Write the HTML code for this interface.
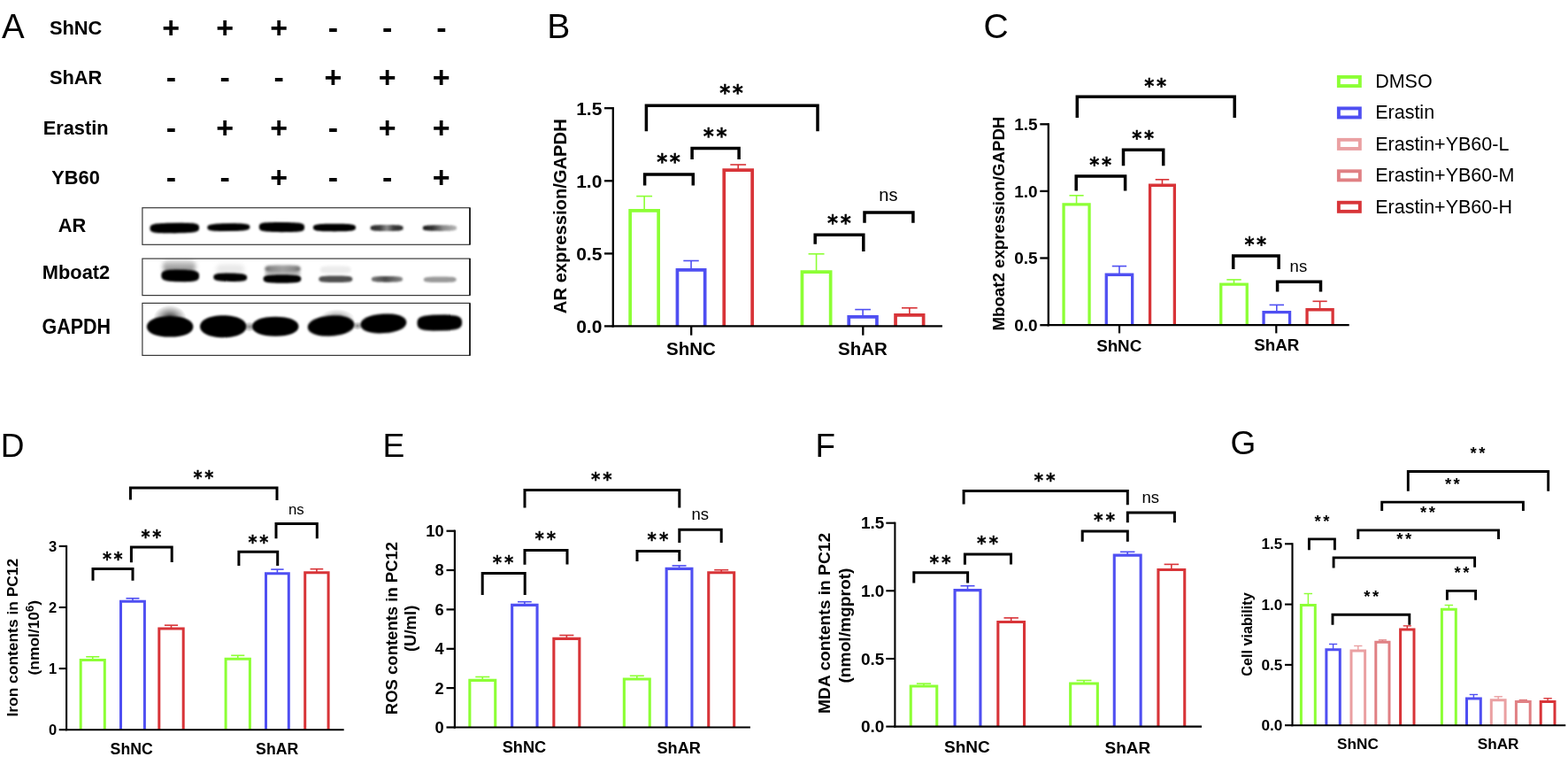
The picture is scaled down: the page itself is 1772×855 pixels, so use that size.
<!DOCTYPE html>
<html><head><meta charset="utf-8"><title>Figure</title>
<style>html,body{margin:0;padding:0;background:#fff;}body{width:1772px;height:855px;overflow:hidden;}svg{display:block;}</style>
</head><body>
<svg width="1772" height="855" viewBox="0 0 1772 855">
<rect width="1772" height="855" fill="#fff"/>
<text x="1.91" y="42.8" font-size="38.4" font-family="'Liberation Sans', Arial, Helvetica, sans-serif" text-anchor="start">A</text>
<text x="618.18" y="42.9" font-size="39" font-family="'Liberation Sans', Arial, Helvetica, sans-serif" text-anchor="start">B</text>
<text x="1111.55" y="42.6" font-size="39" font-family="'Liberation Sans', Arial, Helvetica, sans-serif" text-anchor="start">C</text>
<text x="0.84" y="516.2" font-size="37" font-family="'Liberation Sans', Arial, Helvetica, sans-serif" text-anchor="start">D</text>
<text x="432.42" y="516" font-size="37.2" font-family="'Liberation Sans', Arial, Helvetica, sans-serif" text-anchor="start">E</text>
<text x="921.46" y="516" font-size="36.8" font-family="'Liberation Sans', Arial, Helvetica, sans-serif" text-anchor="start">F</text>
<text x="1390.55" y="513.3" font-size="37" font-family="'Liberation Sans', Arial, Helvetica, sans-serif" text-anchor="start">G</text>
<text x="85.6" y="38.6" font-size="21.8" font-family="'Liberation Sans', Arial, Helvetica, sans-serif" font-weight="bold" text-anchor="middle">ShNC</text>
<text x="193.3" y="42.6" font-size="34" font-family="'Liberation Sans', Arial, Helvetica, sans-serif" font-weight="bold" text-anchor="middle">+</text>
<text x="254.2" y="42.6" font-size="34" font-family="'Liberation Sans', Arial, Helvetica, sans-serif" font-weight="bold" text-anchor="middle">+</text>
<text x="315.2" y="42.6" font-size="34" font-family="'Liberation Sans', Arial, Helvetica, sans-serif" font-weight="bold" text-anchor="middle">+</text>
<text x="376.5" y="42.6" font-size="34" font-family="'Liberation Sans', Arial, Helvetica, sans-serif" font-weight="bold" text-anchor="middle">-</text>
<text x="437.7" y="42.6" font-size="34" font-family="'Liberation Sans', Arial, Helvetica, sans-serif" font-weight="bold" text-anchor="middle">-</text>
<text x="498.8" y="42.6" font-size="34" font-family="'Liberation Sans', Arial, Helvetica, sans-serif" font-weight="bold" text-anchor="middle">-</text>
<text x="85.6" y="95.2" font-size="21.8" font-family="'Liberation Sans', Arial, Helvetica, sans-serif" font-weight="bold" text-anchor="middle">ShAR</text>
<text x="193.3" y="98.5" font-size="34" font-family="'Liberation Sans', Arial, Helvetica, sans-serif" font-weight="bold" text-anchor="middle">-</text>
<text x="254.2" y="98.5" font-size="34" font-family="'Liberation Sans', Arial, Helvetica, sans-serif" font-weight="bold" text-anchor="middle">-</text>
<text x="315.2" y="98.5" font-size="34" font-family="'Liberation Sans', Arial, Helvetica, sans-serif" font-weight="bold" text-anchor="middle">-</text>
<text x="376.5" y="98.5" font-size="34" font-family="'Liberation Sans', Arial, Helvetica, sans-serif" font-weight="bold" text-anchor="middle">+</text>
<text x="437.7" y="98.5" font-size="34" font-family="'Liberation Sans', Arial, Helvetica, sans-serif" font-weight="bold" text-anchor="middle">+</text>
<text x="498.8" y="98.5" font-size="34" font-family="'Liberation Sans', Arial, Helvetica, sans-serif" font-weight="bold" text-anchor="middle">+</text>
<text x="85.6" y="152.4" font-size="21.8" font-family="'Liberation Sans', Arial, Helvetica, sans-serif" font-weight="bold" text-anchor="middle">Erastin</text>
<text x="193.3" y="156.1" font-size="34" font-family="'Liberation Sans', Arial, Helvetica, sans-serif" font-weight="bold" text-anchor="middle">-</text>
<text x="254.2" y="156.1" font-size="34" font-family="'Liberation Sans', Arial, Helvetica, sans-serif" font-weight="bold" text-anchor="middle">+</text>
<text x="315.2" y="156.1" font-size="34" font-family="'Liberation Sans', Arial, Helvetica, sans-serif" font-weight="bold" text-anchor="middle">+</text>
<text x="376.5" y="156.1" font-size="34" font-family="'Liberation Sans', Arial, Helvetica, sans-serif" font-weight="bold" text-anchor="middle">-</text>
<text x="437.7" y="156.1" font-size="34" font-family="'Liberation Sans', Arial, Helvetica, sans-serif" font-weight="bold" text-anchor="middle">+</text>
<text x="498.8" y="156.1" font-size="34" font-family="'Liberation Sans', Arial, Helvetica, sans-serif" font-weight="bold" text-anchor="middle">+</text>
<text x="85.6" y="208.3" font-size="21.8" font-family="'Liberation Sans', Arial, Helvetica, sans-serif" font-weight="bold" text-anchor="middle">YB60</text>
<text x="193.3" y="212.3" font-size="34" font-family="'Liberation Sans', Arial, Helvetica, sans-serif" font-weight="bold" text-anchor="middle">-</text>
<text x="254.2" y="212.3" font-size="34" font-family="'Liberation Sans', Arial, Helvetica, sans-serif" font-weight="bold" text-anchor="middle">-</text>
<text x="315.2" y="212.3" font-size="34" font-family="'Liberation Sans', Arial, Helvetica, sans-serif" font-weight="bold" text-anchor="middle">+</text>
<text x="376.5" y="212.3" font-size="34" font-family="'Liberation Sans', Arial, Helvetica, sans-serif" font-weight="bold" text-anchor="middle">-</text>
<text x="437.7" y="212.3" font-size="34" font-family="'Liberation Sans', Arial, Helvetica, sans-serif" font-weight="bold" text-anchor="middle">-</text>
<text x="498.8" y="212.3" font-size="34" font-family="'Liberation Sans', Arial, Helvetica, sans-serif" font-weight="bold" text-anchor="middle">+</text>
<text x="81.5" y="261.8" font-size="21.8" font-family="'Liberation Sans', Arial, Helvetica, sans-serif" font-weight="bold" text-anchor="middle">AR</text>
<text x="86" y="315.2" font-size="21.8" font-family="'Liberation Sans', Arial, Helvetica, sans-serif" font-weight="bold" text-anchor="middle">Mboat2</text>
<text x="86.3" y="377.2" font-size="23" font-family="'Liberation Sans', Arial, Helvetica, sans-serif" font-weight="bold" text-anchor="middle" textLength="77.6" lengthAdjust="spacingAndGlyphs">GAPDH</text>

<defs>
<filter id="bl1" x="-30%" y="-80%" width="160%" height="260%"><feGaussianBlur stdDeviation="0.8"/></filter>
<filter id="bl2" x="-30%" y="-80%" width="160%" height="260%"><feGaussianBlur stdDeviation="1.5"/></filter>
<filter id="bl3" x="-40%" y="-120%" width="180%" height="340%"><feGaussianBlur stdDeviation="2.6"/></filter>
<radialGradient id="rg1" cx="0.5" cy="0.5" r="0.5"><stop offset="0" stop-color="#000" stop-opacity="0.85"/><stop offset="0.55" stop-color="#000" stop-opacity="0.35"/><stop offset="1" stop-color="#000" stop-opacity="0"/></radialGradient>
<radialGradient id="rg2" cx="0.5" cy="0.5" r="0.5"><stop offset="0" stop-color="#000" stop-opacity="0.45"/><stop offset="1" stop-color="#000" stop-opacity="0"/></radialGradient>
<linearGradient id="g5" x1="0" x2="1" y1="0" y2="0"><stop offset="0" stop-color="#2a2a2a"/><stop offset="0.28" stop-color="#3a3a3a"/><stop offset="0.5" stop-color="#8a8a8a"/><stop offset="0.72" stop-color="#3a3a3a"/><stop offset="1" stop-color="#2a2a2a"/></linearGradient>
<linearGradient id="g6" x1="0" x2="1" y1="0" y2="0"><stop offset="0" stop-color="#1a1a1a"/><stop offset="0.3" stop-color="#333"/><stop offset="0.6" stop-color="#8a8a8a"/><stop offset="1" stop-color="#b5b5b5"/></linearGradient>
<linearGradient id="gm1" x1="0" x2="0" y1="0" y2="1"><stop offset="0" stop-color="#e0e0e0"/><stop offset="0.5" stop-color="#a8a8a8"/><stop offset="1" stop-color="#8a8a8a"/></linearGradient>
<linearGradient id="gm3" x1="0" x2="1" y1="0" y2="0"><stop offset="0" stop-color="#6a6a6a"/><stop offset="0.2" stop-color="#8c8c8c"/><stop offset="0.5" stop-color="#a0a0a0"/><stop offset="0.8" stop-color="#8c8c8c"/><stop offset="1" stop-color="#6a6a6a"/></linearGradient>
<linearGradient id="gm5" x1="0" x2="1" y1="0" y2="0"><stop offset="0" stop-color="#777"/><stop offset="0.45" stop-color="#4a4a4a"/><stop offset="1" stop-color="#888"/></linearGradient>
</defs>

<path d="M225.1 257.6C225.1 262.24 222.88 263.4 197.3 263.4C171.72 263.4 169.5 262.24 169.5 257.6C169.5 252.96 171.72 251.8 197.3 251.8C222.88 251.8 225.1 252.96 225.1 257.6Z" fill="#000" opacity="1" transform="rotate(-0.8 197.3 257.6)" filter="url(#bl1)"/>
<path d="M282.4 256.7C282.4 259.34 280.48 261.1 258.35 261.1C236.22 261.1 234.3 259.34 234.3 256.7C234.3 254.06 236.22 252.3 258.35 252.3C280.48 252.3 282.4 254.06 282.4 256.7Z" fill="#000" opacity="1" transform="rotate(-0.8 258.35 256.7)" filter="url(#bl1)"/>
<path d="M344.1 256.6C344.1 261.08 342.05 262.2 318.45 262.2C294.85 262.2 292.8 261.08 292.8 256.6C292.8 252.12 294.85 251 318.45 251C342.05 251 344.1 252.12 344.1 256.6Z" fill="#000" opacity="1" transform="rotate(0.6 318.45 256.6)" filter="url(#bl1)"/>
<path d="M402 257.05C402 260.31 400.08 261.4 377.95 261.4C355.82 261.4 353.9 260.31 353.9 257.05C353.9 253.79 355.82 252.7 377.95 252.7C400.08 252.7 402 253.79 402 257.05Z" fill="#000" opacity="1" filter="url(#bl1)"/>
<path d="M455.6 257.4C455.6 260.2 453.75 260.9 437.1 260.9C420.45 260.9 418.6 260.2 418.6 257.4C418.6 254.6 420.45 253.9 437.1 253.9C453.75 253.9 455.6 254.6 455.6 257.4Z" fill="url(#g5)" opacity="1" filter="url(#bl1)"/>
<path d="M516.2 257.6C516.2 260.24 514.28 260.9 497 260.9C479.72 260.9 477.8 260.24 477.8 257.6C477.8 254.96 479.72 254.3 497 254.3C514.28 254.3 516.2 254.96 516.2 257.6Z" fill="url(#g6)" opacity="1" filter="url(#bl1)"/>
<path d="M221 300.75C221 307.27 219.15 308 202.5 308C185.85 308 184 307.27 184 300.75C184 294.23 185.85 293.5 202.5 293.5C219.15 293.5 221 294.23 221 300.75Z" fill="url(#gm1)" opacity="1" filter="url(#bl3)"/>
<path d="M225.1 311.4C225.1 316.5 221.89 318.2 203.7 318.2C185.51 318.2 182.3 316.5 182.3 311.4C182.3 306.3 185.51 304.6 203.7 304.6C221.89 304.6 225.1 306.3 225.1 311.4Z" fill="#000" opacity="1" transform="rotate(1 203.7 311.4)" filter="url(#bl1)"/>
<path d="M276 304C276 308.95 274.43 309.5 260.25 309.5C246.07 309.5 244.5 308.95 244.5 304C244.5 299.05 246.07 298.5 260.25 298.5C274.43 298.5 276 299.05 276 304Z" fill="#e8e8e8" opacity="1" filter="url(#bl3)"/>
<path d="M279.2 313.15C279.2 316.47 276.93 317.9 260.25 317.9C243.57 317.9 241.3 316.47 241.3 313.15C241.3 309.82 243.57 308.4 260.25 308.4C276.93 308.4 279.2 309.82 279.2 313.15Z" fill="#000" opacity="1" transform="rotate(1 260.25 313.15)" filter="url(#bl1)"/>
<path d="M339.6 309C339.6 311.7 337.59 312 319.5 312C301.41 312 299.4 311.7 299.4 309C299.4 306.3 301.41 306 319.5 306C337.59 306 339.6 306.3 339.6 309Z" fill="#bdbdbd" opacity="1" filter="url(#bl2)"/>
<path d="M339.6 303.8C339.6 307.16 337.59 308 319.5 308C301.41 308 299.4 307.16 299.4 303.8C299.4 300.44 301.41 299.6 319.5 299.6C337.59 299.6 339.6 300.44 339.6 303.8Z" fill="url(#gm3)" opacity="1" filter="url(#bl2)"/>
<path d="M340.3 315.05C340.3 318.61 337.74 319.8 318.95 319.8C300.16 319.8 297.6 318.61 297.6 315.05C297.6 311.49 300.16 310.3 318.95 310.3C337.74 310.3 340.3 311.49 340.3 315.05Z" fill="#000" opacity="1" filter="url(#bl1)"/>
<path d="M396.5 304.55C396.5 308.2 394.77 308.6 379.25 308.6C363.73 308.6 362 308.2 362 304.55C362 300.9 363.73 300.5 379.25 300.5C394.77 300.5 396.5 300.9 396.5 304.55Z" fill="#ececec" opacity="1" filter="url(#bl2)"/>
<path d="M398.3 315.35C398.3 318.16 396.4 319.1 379.3 319.1C362.2 319.1 360.3 318.16 360.3 315.35C360.3 312.54 362.2 311.6 379.3 311.6C396.4 311.6 398.3 312.54 398.3 315.35Z" fill="#505050" opacity="1" filter="url(#bl1)"/>
<path d="M455.1 315.3C455.1 317.85 453.34 318.7 437.45 318.7C421.57 318.7 419.8 317.85 419.8 315.3C419.8 312.75 421.57 311.9 437.45 311.9C453.34 311.9 455.1 312.75 455.1 315.3Z" fill="url(#gm5)" opacity="1" filter="url(#bl1)"/>
<path d="M515.7 315.75C515.7 318.26 513.86 319.1 497.25 319.1C480.64 319.1 478.8 318.26 478.8 315.75C478.8 313.24 480.64 312.4 497.25 312.4C513.86 312.4 515.7 313.24 515.7 315.75Z" fill="#9a9a9a" opacity="1" filter="url(#bl1)"/>
<ellipse cx="192" cy="360" rx="19" ry="15.5" fill="url(#rg1)"/>
<path d="M218.4 368.95C218.4 375.94 208.43 380.6 192.15 380.6C175.88 380.6 165.9 375.94 165.9 368.95C165.9 361.96 175.88 357.3 192.15 357.3C208.43 357.3 218.4 361.96 218.4 368.95Z" fill="#000" opacity="1" filter="url(#bl1)"/>
<path d="M278.5 368.7C278.5 375.95 268 381.2 252.25 381.2C236.5 381.2 226 375.95 226 368.7C226 361.45 236.5 356.2 252.25 356.2C268 356.2 278.5 361.45 278.5 368.7Z" fill="#000" opacity="1" filter="url(#bl1)"/>
<ellipse cx="282" cy="369" rx="7" ry="6" fill="url(#rg2)"/>
<path d="M337.5 368.7C337.5 375.08 327.51 379.7 311.2 379.7C294.89 379.7 284.9 375.08 284.9 368.7C284.9 362.32 294.89 357.7 311.2 357.7C327.51 357.7 337.5 362.32 337.5 368.7Z" fill="#000" opacity="1" filter="url(#bl1)"/>
<ellipse cx="381" cy="360" rx="20" ry="11" fill="url(#rg2)"/>
<path d="M400.5 368.05C400.5 374.75 389.94 379.6 374.1 379.6C358.26 379.6 347.7 374.75 347.7 368.05C347.7 361.35 358.26 356.5 374.1 356.5C389.94 356.5 400.5 361.35 400.5 368.05Z" fill="#000" opacity="1" transform="rotate(-4 374.1 368.05)" filter="url(#bl1)"/>
<ellipse cx="404" cy="368" rx="6" ry="5" fill="url(#rg2)"/>
<path d="M459.4 365.45C459.4 371.74 449.5 376.3 433.35 376.3C417.2 376.3 407.3 371.74 407.3 365.45C407.3 359.16 417.2 354.6 433.35 354.6C449.5 354.6 459.4 359.16 459.4 365.45Z" fill="#000" opacity="1" transform="rotate(-3.5 433.35 365.45)" filter="url(#bl1)"/>
<path d="M522.1 364.6C522.1 371.35 518.56 373.6 496.8 373.6C475.04 373.6 471.5 371.35 471.5 364.6C471.5 357.85 475.04 355.6 496.8 355.6C518.56 355.6 522.1 357.85 522.1 364.6Z" fill="#000" opacity="1" transform="rotate(-1.2 496.8 364.6)" filter="url(#bl1)"/>
<rect x="160.9" y="234.7" width="370.1" height="41.6" fill="none" stroke="#3a3a3a" stroke-width="1.2"/>
<line x1="531" y1="234.7" x2="531" y2="276.3" stroke="#111" stroke-width="1.6"/>
<rect x="160.9" y="292.1" width="370.1" height="41.5" fill="none" stroke="#3a3a3a" stroke-width="1.2"/>
<line x1="531" y1="292.1" x2="531" y2="333.6" stroke="#111" stroke-width="1.6"/>
<rect x="160.9" y="342.4" width="370.1" height="59" fill="none" stroke="#3a3a3a" stroke-width="1.2"/>
<line x1="531" y1="342.4" x2="531" y2="401.4" stroke="#111" stroke-width="1.6"/>
<text x="680.4" y="129.55" font-size="21" font-family="'Liberation Sans', Arial, Helvetica, sans-serif" font-weight="bold" text-anchor="end">1.5</text>
<text x="680.4" y="211.65" font-size="21" font-family="'Liberation Sans', Arial, Helvetica, sans-serif" font-weight="bold" text-anchor="end">1.0</text>
<text x="680.4" y="293.75" font-size="21" font-family="'Liberation Sans', Arial, Helvetica, sans-serif" font-weight="bold" text-anchor="end">0.5</text>
<text x="680.4" y="375.75" font-size="21" font-family="'Liberation Sans', Arial, Helvetica, sans-serif" font-weight="bold" text-anchor="end">0.0</text>
<text x="781" y="401.1" font-size="20.5" font-family="'Liberation Sans', Arial, Helvetica, sans-serif" font-weight="bold" text-anchor="middle">ShNC</text>
<text x="975" y="401.1" font-size="20.5" font-family="'Liberation Sans', Arial, Helvetica, sans-serif" font-weight="bold" text-anchor="middle">ShAR</text>
<text x="639.8" y="244.2" font-size="20.2" font-family="'Liberation Sans', Arial, Helvetica, sans-serif" font-weight="bold" text-anchor="middle" transform="rotate(-90 639.8 244.2)">AR expression/GAPDH</text>
<line x1="728.15" y1="237.95" x2="728.15" y2="221.6" stroke="#8cff35" stroke-width="1.6" stroke-linecap="butt"/>
<line x1="719.22" y1="221.6" x2="737.08" y2="221.6" stroke="#8cff35" stroke-width="1.6" stroke-linecap="butt"/>
<path d="M712.15 368.4V237.95H744.15V368.4" fill="none" stroke="#8cff35" stroke-width="3.7"/>
<line x1="781.05" y1="304.95" x2="781.05" y2="294.5" stroke="#4f4ff2" stroke-width="1.6" stroke-linecap="butt"/>
<line x1="772.32" y1="294.5" x2="789.77" y2="294.5" stroke="#4f4ff2" stroke-width="1.6" stroke-linecap="butt"/>
<path d="M765.45 368.4V304.95H796.65V368.4" fill="none" stroke="#4f4ff2" stroke-width="3.7"/>
<line x1="834.2" y1="192.05" x2="834.2" y2="186" stroke="#d83438" stroke-width="1.6" stroke-linecap="butt"/>
<line x1="825.3" y1="186" x2="843.1" y2="186" stroke="#d83438" stroke-width="1.6" stroke-linecap="butt"/>
<path d="M818.25 368.4V192.05H850.15V368.4" fill="none" stroke="#d83438" stroke-width="3.7"/>
<line x1="922.55" y1="307.05" x2="922.55" y2="286.8" stroke="#8cff35" stroke-width="1.6" stroke-linecap="butt"/>
<line x1="913.57" y1="286.8" x2="931.52" y2="286.8" stroke="#8cff35" stroke-width="1.6" stroke-linecap="butt"/>
<path d="M906.45 368.4V307.05H938.65V368.4" fill="none" stroke="#8cff35" stroke-width="3.7"/>
<line x1="975.1" y1="357.95" x2="975.1" y2="349.6" stroke="#4f4ff2" stroke-width="1.6" stroke-linecap="butt"/>
<line x1="966.25" y1="349.6" x2="983.95" y2="349.6" stroke="#4f4ff2" stroke-width="1.6" stroke-linecap="butt"/>
<path d="M959.25 368.4V357.95H990.95V368.4" fill="none" stroke="#4f4ff2" stroke-width="3.7"/>
<line x1="1027.85" y1="355.95" x2="1027.85" y2="347.8" stroke="#d83438" stroke-width="1.6" stroke-linecap="butt"/>
<line x1="1019.02" y1="347.8" x2="1036.67" y2="347.8" stroke="#d83438" stroke-width="1.6" stroke-linecap="butt"/>
<path d="M1012.05 368.4V355.95H1043.65V368.4" fill="none" stroke="#d83438" stroke-width="3.7"/>
<path d="M730.4 148.2V119.25H924V148.2" stroke="#000" stroke-width="3.5" fill="none" stroke-linejoin="miter" stroke-linecap="butt"/>
<text x="0" y="0" transform="translate(813.14 112.52) scale(0.94 1)" font-size="24.5" font-family="'DejaVu Sans', 'Liberation Sans', sans-serif" font-weight="bold" letter-spacing="2.82" stroke="#000" stroke-width="0.35">**</text>
<path d="M728.6 209.5V196.95H783.3V209.5" stroke="#000" stroke-width="3.5" fill="none" stroke-linejoin="miter" stroke-linecap="butt"/>
<text x="0" y="0" transform="translate(742.14 191.12) scale(0.94 1)" font-size="24.5" font-family="'DejaVu Sans', 'Liberation Sans', sans-serif" font-weight="bold" letter-spacing="2.82" stroke="#000" stroke-width="0.35">**</text>
<path d="M782.1 180V167.45H835.1V180" stroke="#000" stroke-width="3.5" fill="none" stroke-linejoin="miter" stroke-linecap="butt"/>
<text x="0" y="0" transform="translate(794.84 162.32) scale(0.94 1)" font-size="24.5" font-family="'DejaVu Sans', 'Liberation Sans', sans-serif" font-weight="bold" letter-spacing="2.82" stroke="#000" stroke-width="0.35">**</text>
<path d="M921.2 275.7V265.35H975.8V283.9" stroke="#000" stroke-width="3.5" fill="none" stroke-linejoin="miter" stroke-linecap="butt"/>
<text x="0" y="0" transform="translate(934.94 259.52) scale(0.94 1)" font-size="24.5" font-family="'DejaVu Sans', 'Liberation Sans', sans-serif" font-weight="bold" letter-spacing="2.82" stroke="#000" stroke-width="0.35">**</text>
<path d="M977 251.7V240.05H1031.9V251.7" stroke="#000" stroke-width="3.5" fill="none" stroke-linejoin="miter" stroke-linecap="butt"/>
<text x="993.3" y="227.3" font-size="20" font-family="'Liberation Sans', Arial, Helvetica, sans-serif" text-anchor="start">ns</text>
<text x="1172.7" y="146.95" font-size="19" font-family="'Liberation Sans', Arial, Helvetica, sans-serif" font-weight="bold" text-anchor="end">1.5</text>
<text x="1172.7" y="222.55" font-size="19" font-family="'Liberation Sans', Arial, Helvetica, sans-serif" font-weight="bold" text-anchor="end">1.0</text>
<text x="1172.7" y="298.15" font-size="19" font-family="'Liberation Sans', Arial, Helvetica, sans-serif" font-weight="bold" text-anchor="end">0.5</text>
<text x="1172.7" y="373.85" font-size="19" font-family="'Liberation Sans', Arial, Helvetica, sans-serif" font-weight="bold" text-anchor="end">0.0</text>
<text x="1264.7" y="396.6" font-size="18.8" font-family="'Liberation Sans', Arial, Helvetica, sans-serif" font-weight="bold" text-anchor="middle">ShNC</text>
<text x="1442.8" y="396.2" font-size="18.8" font-family="'Liberation Sans', Arial, Helvetica, sans-serif" font-weight="bold" text-anchor="middle">ShAR</text>
<text x="1135" y="252.6" font-size="18.7" font-family="'Liberation Sans', Arial, Helvetica, sans-serif" font-weight="bold" text-anchor="middle" transform="rotate(-90 1135 252.6)">Mboat2 expression/GAPDH</text>
<line x1="1216.55" y1="230.95" x2="1216.55" y2="220.8" stroke="#8cff35" stroke-width="1.6" stroke-linecap="butt"/>
<line x1="1208.48" y1="220.8" x2="1224.63" y2="220.8" stroke="#8cff35" stroke-width="1.6" stroke-linecap="butt"/>
<path d="M1202.05 367.2V230.95H1231.05V367.2" fill="none" stroke="#8cff35" stroke-width="3.3"/>
<line x1="1264.95" y1="310.25" x2="1264.95" y2="300.6" stroke="#4f4ff2" stroke-width="1.6" stroke-linecap="butt"/>
<line x1="1256.78" y1="300.6" x2="1273.12" y2="300.6" stroke="#4f4ff2" stroke-width="1.6" stroke-linecap="butt"/>
<path d="M1250.25 367.2V310.25H1279.65V367.2" fill="none" stroke="#4f4ff2" stroke-width="3.3"/>
<line x1="1313.45" y1="209.25" x2="1313.45" y2="202.8" stroke="#d83438" stroke-width="1.6" stroke-linecap="butt"/>
<line x1="1305.68" y1="202.8" x2="1321.22" y2="202.8" stroke="#d83438" stroke-width="1.6" stroke-linecap="butt"/>
<path d="M1299.55 367.2V209.25H1327.35V367.2" fill="none" stroke="#d83438" stroke-width="3.3"/>
<line x1="1394.5" y1="321.15" x2="1394.5" y2="315.9" stroke="#8cff35" stroke-width="1.6" stroke-linecap="butt"/>
<line x1="1386.3" y1="315.9" x2="1402.7" y2="315.9" stroke="#8cff35" stroke-width="1.6" stroke-linecap="butt"/>
<path d="M1379.75 367.2V321.15H1409.25V367.2" fill="none" stroke="#8cff35" stroke-width="3.3"/>
<line x1="1442.8" y1="352.55" x2="1442.8" y2="344.4" stroke="#4f4ff2" stroke-width="1.6" stroke-linecap="butt"/>
<line x1="1434.6" y1="344.4" x2="1451" y2="344.4" stroke="#4f4ff2" stroke-width="1.6" stroke-linecap="butt"/>
<path d="M1428.05 367.2V352.55H1457.55V367.2" fill="none" stroke="#4f4ff2" stroke-width="3.3"/>
<line x1="1491.6" y1="349.75" x2="1491.6" y2="340.3" stroke="#d83438" stroke-width="1.6" stroke-linecap="butt"/>
<line x1="1483.5" y1="340.3" x2="1499.7" y2="340.3" stroke="#d83438" stroke-width="1.6" stroke-linecap="butt"/>
<path d="M1477.05 367.2V349.75H1506.15V367.2" fill="none" stroke="#d83438" stroke-width="3.3"/>
<path d="M1217.3 132.9V109.25H1395.2V132.9" stroke="#000" stroke-width="3.5" fill="none" stroke-linejoin="miter" stroke-linecap="butt"/>
<text x="0" y="0" transform="translate(1293.28 104.59) scale(0.94 1)" font-size="22.5" font-family="'DejaVu Sans', 'Liberation Sans', sans-serif" font-weight="bold" letter-spacing="2.81" stroke="#000" stroke-width="0.35">**</text>
<path d="M1216.2 215.6V199.05H1271.6V215.6" stroke="#000" stroke-width="3.5" fill="none" stroke-linejoin="miter" stroke-linecap="butt"/>
<text x="0" y="0" transform="translate(1231.18 194.49) scale(0.94 1)" font-size="22.5" font-family="'DejaVu Sans', 'Liberation Sans', sans-serif" font-weight="bold" letter-spacing="2.81" stroke="#000" stroke-width="0.35">**</text>
<path d="M1269.5 187.2V169.25H1314.7V187.2" stroke="#000" stroke-width="3.5" fill="none" stroke-linejoin="miter" stroke-linecap="butt"/>
<text x="0" y="0" transform="translate(1279.18 164.39) scale(0.94 1)" font-size="22.5" font-family="'DejaVu Sans', 'Liberation Sans', sans-serif" font-weight="bold" letter-spacing="2.81" stroke="#000" stroke-width="0.35">**</text>
<path d="M1393.7 304.1V288.95H1445.1V304.1" stroke="#000" stroke-width="3.5" fill="none" stroke-linejoin="miter" stroke-linecap="butt"/>
<text x="0" y="0" transform="translate(1406.38 284.39) scale(0.94 1)" font-size="22.5" font-family="'DejaVu Sans', 'Liberation Sans', sans-serif" font-weight="bold" letter-spacing="2.81" stroke="#000" stroke-width="0.35">**</text>
<path d="M1443.6 329.4V318.15H1492.5V329.4" stroke="#000" stroke-width="3.5" fill="none" stroke-linejoin="miter" stroke-linecap="butt"/>
<text x="1457.6" y="307.1" font-size="18.5" font-family="'Liberation Sans', Arial, Helvetica, sans-serif" text-anchor="start">ns</text>
<rect x="1512.85" y="86.95" width="24" height="10.1" fill="none" stroke="#8cff35" stroke-width="3.9"/>
<text x="1554.18" y="99" font-size="21.5" font-family="'Liberation Sans', Arial, Helvetica, sans-serif" text-anchor="start">DMSO</text>
<rect x="1512.85" y="122.4" width="24" height="10.1" fill="none" stroke="#4f4ff2" stroke-width="3.9"/>
<text x="1554.18" y="134.45" font-size="21.5" font-family="'Liberation Sans', Arial, Helvetica, sans-serif" text-anchor="start">Erastin</text>
<rect x="1512.85" y="157.85" width="24" height="10.1" fill="none" stroke="#eaa0a2" stroke-width="3.9"/>
<text x="1554.18" y="169.9" font-size="21.5" font-family="'Liberation Sans', Arial, Helvetica, sans-serif" text-anchor="start">Erastin+YB60-L</text>
<rect x="1512.85" y="193.3" width="24" height="10.1" fill="none" stroke="#e08084" stroke-width="3.9"/>
<text x="1554.18" y="205.35" font-size="21.5" font-family="'Liberation Sans', Arial, Helvetica, sans-serif" text-anchor="start">Erastin+YB60-M</text>
<rect x="1512.85" y="228.75" width="24" height="10.1" fill="none" stroke="#d83438" stroke-width="3.9"/>
<text x="1554.18" y="240.8" font-size="21.5" font-family="'Liberation Sans', Arial, Helvetica, sans-serif" text-anchor="start">Erastin+YB60-H</text>
<text x="64.2" y="622.67" font-size="16.5" font-family="'Liberation Sans', Arial, Helvetica, sans-serif" font-weight="bold" text-anchor="end">3</text>
<text x="64.2" y="691.77" font-size="16.5" font-family="'Liberation Sans', Arial, Helvetica, sans-serif" font-weight="bold" text-anchor="end">2</text>
<text x="64.2" y="760.88" font-size="16.5" font-family="'Liberation Sans', Arial, Helvetica, sans-serif" font-weight="bold" text-anchor="end">1</text>
<text x="64.2" y="829.98" font-size="16.5" font-family="'Liberation Sans', Arial, Helvetica, sans-serif" font-weight="bold" text-anchor="end">0</text>
<text x="148.7" y="851.9" font-size="17.7" font-family="'Liberation Sans', Arial, Helvetica, sans-serif" font-weight="bold" text-anchor="middle">ShNC</text>
<text x="313.2" y="851.6" font-size="17.7" font-family="'Liberation Sans', Arial, Helvetica, sans-serif" font-weight="bold" text-anchor="middle">ShAR</text>
<text x="19.9" y="720.2" font-size="17.4" font-family="'Liberation Sans', Arial, Helvetica, sans-serif" font-weight="bold" text-anchor="middle" transform="rotate(-90 19.9 720.2)">Iron contents in PC12</text>
<text x="44.4" y="720.2" font-size="17.4" font-family="'Liberation Sans', Arial, Helvetica, sans-serif" font-weight="bold" text-anchor="middle" transform="rotate(-90 44.4 720.2)">(nmol/10<tspan dy="-6.5" font-size="13">6</tspan><tspan dy="6.5">)</tspan></text>
<line x1="104.75" y1="745.4" x2="104.75" y2="741.8" stroke="#8cff35" stroke-width="1.6" stroke-linecap="butt"/>
<line x1="97.22" y1="741.8" x2="112.28" y2="741.8" stroke="#8cff35" stroke-width="1.6" stroke-linecap="butt"/>
<path d="M91.2 824.2V745.4H118.3V824.2" fill="none" stroke="#8cff35" stroke-width="3"/>
<line x1="149.95" y1="679.2" x2="149.95" y2="675.8" stroke="#4f4ff2" stroke-width="1.6" stroke-linecap="butt"/>
<line x1="142.47" y1="675.8" x2="157.42" y2="675.8" stroke="#4f4ff2" stroke-width="1.6" stroke-linecap="butt"/>
<path d="M136.5 824.2V679.2H163.4V824.2" fill="none" stroke="#4f4ff2" stroke-width="3"/>
<line x1="193.5" y1="709.9" x2="193.5" y2="706.2" stroke="#d83438" stroke-width="1.6" stroke-linecap="butt"/>
<line x1="185.9" y1="706.2" x2="201.1" y2="706.2" stroke="#d83438" stroke-width="1.6" stroke-linecap="butt"/>
<path d="M179.8 824.2V709.9H207.2V824.2" fill="none" stroke="#d83438" stroke-width="3"/>
<line x1="268.75" y1="744.2" x2="268.75" y2="740.3" stroke="#8cff35" stroke-width="1.6" stroke-linecap="butt"/>
<line x1="261.18" y1="740.3" x2="276.32" y2="740.3" stroke="#8cff35" stroke-width="1.6" stroke-linecap="butt"/>
<path d="M255.1 824.2V744.2H282.4V824.2" fill="none" stroke="#8cff35" stroke-width="3"/>
<line x1="313.4" y1="647.8" x2="313.4" y2="643.1" stroke="#4f4ff2" stroke-width="1.6" stroke-linecap="butt"/>
<line x1="306.2" y1="643.1" x2="320.6" y2="643.1" stroke="#4f4ff2" stroke-width="1.6" stroke-linecap="butt"/>
<path d="M300.5 824.2V647.8H326.3V824.2" fill="none" stroke="#4f4ff2" stroke-width="3"/>
<line x1="357.9" y1="646.7" x2="357.9" y2="642.7" stroke="#d83438" stroke-width="1.6" stroke-linecap="butt"/>
<line x1="350.55" y1="642.7" x2="365.25" y2="642.7" stroke="#d83438" stroke-width="1.6" stroke-linecap="butt"/>
<path d="M344.7 824.2V646.7H371.1V824.2" fill="none" stroke="#d83438" stroke-width="3"/>
<path d="M147.4 564.6V551H313V565" stroke="#000" stroke-width="3" fill="none" stroke-linejoin="miter" stroke-linecap="butt"/>
<text x="0" y="0" transform="translate(218.61 546.86) scale(0.94 1)" font-size="20.5" font-family="'DejaVu Sans', 'Liberation Sans', sans-serif" font-weight="bold" letter-spacing="2.68" stroke="#000" stroke-width="0.35">**</text>
<path d="M105 655.8V642.5H150V655.8" stroke="#000" stroke-width="3" fill="none" stroke-linejoin="miter" stroke-linecap="butt"/>
<text x="0" y="0" transform="translate(116.01 638.86) scale(0.94 1)" font-size="20.5" font-family="'DejaVu Sans', 'Liberation Sans', sans-serif" font-weight="bold" letter-spacing="2.68" stroke="#000" stroke-width="0.35">**</text>
<path d="M148.4 635.3V617.9H194.2V635.1" stroke="#000" stroke-width="3" fill="none" stroke-linejoin="miter" stroke-linecap="butt"/>
<text x="0" y="0" transform="translate(159.61 613.66) scale(0.94 1)" font-size="20.5" font-family="'DejaVu Sans', 'Liberation Sans', sans-serif" font-weight="bold" letter-spacing="2.68" stroke="#000" stroke-width="0.35">**</text>
<path d="M269.9 639.1V623.2H313.7V639.1" stroke="#000" stroke-width="3" fill="none" stroke-linejoin="miter" stroke-linecap="butt"/>
<text x="0" y="0" transform="translate(280.61 619.96) scale(0.94 1)" font-size="20.5" font-family="'DejaVu Sans', 'Liberation Sans', sans-serif" font-weight="bold" letter-spacing="2.68" stroke="#000" stroke-width="0.35">**</text>
<path d="M312 608.2V591.6H358.3V608.2" stroke="#000" stroke-width="3" fill="none" stroke-linejoin="miter" stroke-linecap="butt"/>
<text x="325.91" y="581" font-size="16.8" font-family="'Liberation Sans', Arial, Helvetica, sans-serif" text-anchor="start">ns</text>
<text x="501.7" y="606.11" font-size="18.3" font-family="'Liberation Sans', Arial, Helvetica, sans-serif" font-weight="bold" text-anchor="end">10</text>
<text x="501.7" y="650.4" font-size="18.3" font-family="'Liberation Sans', Arial, Helvetica, sans-serif" font-weight="bold" text-anchor="end">8</text>
<text x="501.7" y="694.8" font-size="18.3" font-family="'Liberation Sans', Arial, Helvetica, sans-serif" font-weight="bold" text-anchor="end">6</text>
<text x="501.7" y="739.2" font-size="18.3" font-family="'Liberation Sans', Arial, Helvetica, sans-serif" font-weight="bold" text-anchor="end">4</text>
<text x="501.7" y="783.5" font-size="18.3" font-family="'Liberation Sans', Arial, Helvetica, sans-serif" font-weight="bold" text-anchor="end">2</text>
<text x="501.7" y="827.9" font-size="18.3" font-family="'Liberation Sans', Arial, Helvetica, sans-serif" font-weight="bold" text-anchor="end">0</text>
<text x="592.5" y="850.2" font-size="18.2" font-family="'Liberation Sans', Arial, Helvetica, sans-serif" font-weight="bold" text-anchor="middle">ShNC</text>
<text x="767.2" y="850.6" font-size="18.2" font-family="'Liberation Sans', Arial, Helvetica, sans-serif" font-weight="bold" text-anchor="middle">ShAR</text>
<text x="448.6" y="709.5" font-size="18.5" font-family="'Liberation Sans', Arial, Helvetica, sans-serif" font-weight="bold" text-anchor="middle" transform="rotate(-90 448.6 709.5)">ROS contents in PC12</text>
<text x="470.4" y="709.9" font-size="18.5" font-family="'Liberation Sans', Arial, Helvetica, sans-serif" font-weight="bold" text-anchor="middle" transform="rotate(-90 470.4 709.9)">(U/ml)</text>
<line x1="545.3" y1="768.35" x2="545.3" y2="764.5" stroke="#8cff35" stroke-width="1.6" stroke-linecap="butt"/>
<line x1="537.3" y1="764.5" x2="553.3" y2="764.5" stroke="#8cff35" stroke-width="1.6" stroke-linecap="butt"/>
<path d="M530.85 821.5V768.35H559.75V821.5" fill="none" stroke="#8cff35" stroke-width="3.1"/>
<line x1="592.85" y1="683.35" x2="592.85" y2="679.7" stroke="#4f4ff2" stroke-width="1.6" stroke-linecap="butt"/>
<line x1="584.98" y1="679.7" x2="600.73" y2="679.7" stroke="#4f4ff2" stroke-width="1.6" stroke-linecap="butt"/>
<path d="M578.65 821.5V683.35H607.05V821.5" fill="none" stroke="#4f4ff2" stroke-width="3.1"/>
<line x1="640.35" y1="721.35" x2="640.35" y2="717.5" stroke="#d83438" stroke-width="1.6" stroke-linecap="butt"/>
<line x1="632.32" y1="717.5" x2="648.37" y2="717.5" stroke="#d83438" stroke-width="1.6" stroke-linecap="butt"/>
<path d="M625.85 821.5V721.35H654.85V821.5" fill="none" stroke="#d83438" stroke-width="3.1"/>
<line x1="719.8" y1="766.95" x2="719.8" y2="763.3" stroke="#8cff35" stroke-width="1.6" stroke-linecap="butt"/>
<line x1="711.8" y1="763.3" x2="727.8" y2="763.3" stroke="#8cff35" stroke-width="1.6" stroke-linecap="butt"/>
<path d="M705.35 821.5V766.95H734.25V821.5" fill="none" stroke="#8cff35" stroke-width="3.1"/>
<line x1="767.55" y1="642.35" x2="767.55" y2="638.9" stroke="#4f4ff2" stroke-width="1.6" stroke-linecap="butt"/>
<line x1="759.57" y1="638.9" x2="775.52" y2="638.9" stroke="#4f4ff2" stroke-width="1.6" stroke-linecap="butt"/>
<path d="M753.15 821.5V642.35H781.95V821.5" fill="none" stroke="#4f4ff2" stroke-width="3.1"/>
<line x1="815.2" y1="646.75" x2="815.2" y2="643.7" stroke="#d83438" stroke-width="1.6" stroke-linecap="butt"/>
<line x1="807.2" y1="643.7" x2="823.2" y2="643.7" stroke="#d83438" stroke-width="1.6" stroke-linecap="butt"/>
<path d="M800.75 821.5V646.75H829.65V821.5" fill="none" stroke="#d83438" stroke-width="3.1"/>
<path d="M593 573.4V553.5H767.8V573.4" stroke="#000" stroke-width="3" fill="none" stroke-linejoin="miter" stroke-linecap="butt"/>
<text x="0" y="0" transform="translate(668.01 548.72) scale(0.94 1)" font-size="21" font-family="'DejaVu Sans', 'Liberation Sans', sans-serif" font-weight="bold" letter-spacing="3.17" stroke="#000" stroke-width="0.35">**</text>
<path d="M545.2 672V647.6H593.2V672" stroke="#000" stroke-width="3" fill="none" stroke-linejoin="miter" stroke-linecap="butt"/>
<text x="0" y="0" transform="translate(556.81 643.01) scale(0.94 1)" font-size="21" font-family="'DejaVu Sans', 'Liberation Sans', sans-serif" font-weight="bold" letter-spacing="3.17" stroke="#000" stroke-width="0.35">**</text>
<path d="M593 637.8V621.5H641V637.6" stroke="#000" stroke-width="3" fill="none" stroke-linejoin="miter" stroke-linecap="butt"/>
<text x="0" y="0" transform="translate(604.41 616.01) scale(0.94 1)" font-size="21" font-family="'DejaVu Sans', 'Liberation Sans', sans-serif" font-weight="bold" letter-spacing="3.17" stroke="#000" stroke-width="0.35">**</text>
<path d="M720 634.1V622.5H767.8V634.1" stroke="#000" stroke-width="3" fill="none" stroke-linejoin="miter" stroke-linecap="butt"/>
<text x="0" y="0" transform="translate(731.61 616.72) scale(0.94 1)" font-size="21" font-family="'DejaVu Sans', 'Liberation Sans', sans-serif" font-weight="bold" letter-spacing="3.17" stroke="#000" stroke-width="0.35">**</text>
<path d="M767.8 613V598.3H815.2V613" stroke="#000" stroke-width="3" fill="none" stroke-linejoin="miter" stroke-linecap="butt"/>
<text x="781.5" y="587" font-size="18.5" font-family="'Liberation Sans', Arial, Helvetica, sans-serif" text-anchor="start">ns</text>
<text x="999.4" y="597.35" font-size="19" font-family="'Liberation Sans', Arial, Helvetica, sans-serif" font-weight="bold" text-anchor="end">1.5</text>
<text x="999.4" y="673.95" font-size="19" font-family="'Liberation Sans', Arial, Helvetica, sans-serif" font-weight="bold" text-anchor="end">1.0</text>
<text x="999.4" y="750.65" font-size="19" font-family="'Liberation Sans', Arial, Helvetica, sans-serif" font-weight="bold" text-anchor="end">0.5</text>
<text x="999.4" y="827.25" font-size="19" font-family="'Liberation Sans', Arial, Helvetica, sans-serif" font-weight="bold" text-anchor="end">0.0</text>
<text x="1092.9" y="850.3" font-size="19" font-family="'Liberation Sans', Arial, Helvetica, sans-serif" font-weight="bold" text-anchor="middle">ShNC</text>
<text x="1274.4" y="850.7" font-size="19" font-family="'Liberation Sans', Arial, Helvetica, sans-serif" font-weight="bold" text-anchor="middle">ShAR</text>
<text x="938.2" y="703.9" font-size="19.2" font-family="'Liberation Sans', Arial, Helvetica, sans-serif" font-weight="bold" text-anchor="middle" transform="rotate(-90 938.2 703.9)">MDA contents in PC12</text>
<text x="960.7" y="706.5" font-size="19.2" font-family="'Liberation Sans', Arial, Helvetica, sans-serif" font-weight="bold" text-anchor="middle" transform="rotate(-90 960.7 706.5)">(nmol/mgprot)</text>
<line x1="1044" y1="774.95" x2="1044" y2="772.1" stroke="#8cff35" stroke-width="1.6" stroke-linecap="butt"/>
<line x1="1035.85" y1="772.1" x2="1052.15" y2="772.1" stroke="#8cff35" stroke-width="1.6" stroke-linecap="butt"/>
<path d="M1029.25 820.6V774.95H1058.75V820.6" fill="none" stroke="#8cff35" stroke-width="3.1"/>
<line x1="1093.5" y1="666.65" x2="1093.5" y2="661.7" stroke="#4f4ff2" stroke-width="1.6" stroke-linecap="butt"/>
<line x1="1085.5" y1="661.7" x2="1101.5" y2="661.7" stroke="#4f4ff2" stroke-width="1.6" stroke-linecap="butt"/>
<path d="M1079.05 820.6V666.65H1107.95V820.6" fill="none" stroke="#4f4ff2" stroke-width="3.1"/>
<line x1="1142.7" y1="702.45" x2="1142.7" y2="697.9" stroke="#d83438" stroke-width="1.6" stroke-linecap="butt"/>
<line x1="1134.5" y1="697.9" x2="1150.9" y2="697.9" stroke="#d83438" stroke-width="1.6" stroke-linecap="butt"/>
<path d="M1127.85 820.6V702.45H1157.55V820.6" fill="none" stroke="#d83438" stroke-width="3.1"/>
<line x1="1225" y1="771.95" x2="1225" y2="768.5" stroke="#8cff35" stroke-width="1.6" stroke-linecap="butt"/>
<line x1="1216.55" y1="768.5" x2="1233.45" y2="768.5" stroke="#8cff35" stroke-width="1.6" stroke-linecap="butt"/>
<path d="M1209.65 820.6V771.95H1240.35V820.6" fill="none" stroke="#8cff35" stroke-width="3.1"/>
<line x1="1274.2" y1="627.15" x2="1274.2" y2="623.3" stroke="#4f4ff2" stroke-width="1.6" stroke-linecap="butt"/>
<line x1="1265.95" y1="623.3" x2="1282.45" y2="623.3" stroke="#4f4ff2" stroke-width="1.6" stroke-linecap="butt"/>
<path d="M1259.25 820.6V627.15H1289.15V820.6" fill="none" stroke="#4f4ff2" stroke-width="3.1"/>
<line x1="1323.85" y1="643.55" x2="1323.85" y2="637.4" stroke="#d83438" stroke-width="1.6" stroke-linecap="butt"/>
<line x1="1315.62" y1="637.4" x2="1332.07" y2="637.4" stroke="#d83438" stroke-width="1.6" stroke-linecap="butt"/>
<path d="M1308.95 820.6V643.55H1338.75V820.6" fill="none" stroke="#d83438" stroke-width="3.1"/>
<path d="M1089.1 569.6V554.6H1274.3V570.3" stroke="#000" stroke-width="3" fill="none" stroke-linejoin="miter" stroke-linecap="butt"/>
<text x="0" y="0" transform="translate(1168.4 549.67) scale(0.94 1)" font-size="21.5" font-family="'DejaVu Sans', 'Liberation Sans', sans-serif" font-weight="bold" letter-spacing="3.12" stroke="#000" stroke-width="0.35">**</text>
<path d="M1032.8 658.6V646.8H1093.6V658.6" stroke="#000" stroke-width="3" fill="none" stroke-linejoin="miter" stroke-linecap="butt"/>
<text x="0" y="0" transform="translate(1050.6 642.57) scale(0.94 1)" font-size="21.5" font-family="'DejaVu Sans', 'Liberation Sans', sans-serif" font-weight="bold" letter-spacing="3.12" stroke="#000" stroke-width="0.35">**</text>
<path d="M1090.4 637.8V626H1142.5V637.6" stroke="#000" stroke-width="3" fill="none" stroke-linejoin="miter" stroke-linecap="butt"/>
<text x="0" y="0" transform="translate(1103.9 620.67) scale(0.94 1)" font-size="21.5" font-family="'DejaVu Sans', 'Liberation Sans', sans-serif" font-weight="bold" letter-spacing="3.12" stroke="#000" stroke-width="0.35">**</text>
<path d="M1223.2 611.8V600H1274.3V611.8" stroke="#000" stroke-width="3" fill="none" stroke-linejoin="miter" stroke-linecap="butt"/>
<text x="0" y="0" transform="translate(1236 594.97) scale(0.94 1)" font-size="21.5" font-family="'DejaVu Sans', 'Liberation Sans', sans-serif" font-weight="bold" letter-spacing="3.12" stroke="#000" stroke-width="0.35">**</text>
<path d="M1274.3 590.3V579H1327.4V590.3" stroke="#000" stroke-width="3" fill="none" stroke-linejoin="miter" stroke-linecap="butt"/>
<text x="1290.4" y="568" font-size="18.5" font-family="'Liberation Sans', Arial, Helvetica, sans-serif" text-anchor="start">ns</text>
<text x="1449.3" y="620.32" font-size="17.2" font-family="'Liberation Sans', Arial, Helvetica, sans-serif" font-weight="bold" text-anchor="end">1.5</text>
<text x="1449.3" y="688.62" font-size="17.2" font-family="'Liberation Sans', Arial, Helvetica, sans-serif" font-weight="bold" text-anchor="end">1.0</text>
<text x="1449.3" y="756.92" font-size="17.2" font-family="'Liberation Sans', Arial, Helvetica, sans-serif" font-weight="bold" text-anchor="end">0.5</text>
<text x="1449.3" y="825.22" font-size="17.2" font-family="'Liberation Sans', Arial, Helvetica, sans-serif" font-weight="bold" text-anchor="end">0.0</text>
<text x="1534.5" y="845.8" font-size="17.2" font-family="'Liberation Sans', Arial, Helvetica, sans-serif" font-weight="bold" text-anchor="middle">ShNC</text>
<text x="1693.1" y="846.4" font-size="17.2" font-family="'Liberation Sans', Arial, Helvetica, sans-serif" font-weight="bold" text-anchor="middle">ShAR</text>
<text x="1415" y="716.5" font-size="16.2" font-family="'Liberation Sans', Arial, Helvetica, sans-serif" font-weight="bold" text-anchor="middle" transform="rotate(-90 1415 716.5)">Cell viability</text>
<line x1="1478.35" y1="683.6" x2="1478.35" y2="670.5" stroke="#8cff35" stroke-width="1.4" stroke-linecap="butt"/>
<line x1="1473.62" y1="670.5" x2="1483.07" y2="670.5" stroke="#8cff35" stroke-width="1.4" stroke-linecap="butt"/>
<path d="M1470.4 819.2V683.6H1486.3V819.2" fill="none" stroke="#8cff35" stroke-width="3"/>
<line x1="1506.6" y1="733.8" x2="1506.6" y2="727.5" stroke="#4f4ff2" stroke-width="1.4" stroke-linecap="butt"/>
<line x1="1502" y1="727.5" x2="1511.2" y2="727.5" stroke="#4f4ff2" stroke-width="1.4" stroke-linecap="butt"/>
<path d="M1498.9 819.2V733.8H1514.3V819.2" fill="none" stroke="#4f4ff2" stroke-width="3"/>
<line x1="1534.8" y1="734.9" x2="1534.8" y2="729.5" stroke="#eaa0a2" stroke-width="1.4" stroke-linecap="butt"/>
<line x1="1530.15" y1="729.5" x2="1539.45" y2="729.5" stroke="#eaa0a2" stroke-width="1.4" stroke-linecap="butt"/>
<path d="M1527 819.2V734.9H1542.6V819.2" fill="none" stroke="#eaa0a2" stroke-width="3"/>
<line x1="1562.4" y1="725.3" x2="1562.4" y2="722.9" stroke="#e08084" stroke-width="1.4" stroke-linecap="butt"/>
<line x1="1557.85" y1="722.9" x2="1566.95" y2="722.9" stroke="#e08084" stroke-width="1.4" stroke-linecap="butt"/>
<path d="M1554.8 819.2V725.3H1570V819.2" fill="none" stroke="#e08084" stroke-width="3"/>
<line x1="1590.3" y1="711" x2="1590.3" y2="706.9" stroke="#d83438" stroke-width="1.4" stroke-linecap="butt"/>
<line x1="1585.7" y1="706.9" x2="1594.9" y2="706.9" stroke="#d83438" stroke-width="1.4" stroke-linecap="butt"/>
<path d="M1582.6 819.2V711H1598V819.2" fill="none" stroke="#d83438" stroke-width="3"/>
<line x1="1637.35" y1="688.2" x2="1637.35" y2="683.5" stroke="#8cff35" stroke-width="1.4" stroke-linecap="butt"/>
<line x1="1632.62" y1="683.5" x2="1642.07" y2="683.5" stroke="#8cff35" stroke-width="1.4" stroke-linecap="butt"/>
<path d="M1629.4 819.2V688.2H1645.3V819.2" fill="none" stroke="#8cff35" stroke-width="3"/>
<line x1="1665.4" y1="789" x2="1665.4" y2="784.5" stroke="#4f4ff2" stroke-width="1.4" stroke-linecap="butt"/>
<line x1="1660.7" y1="784.5" x2="1670.1" y2="784.5" stroke="#4f4ff2" stroke-width="1.4" stroke-linecap="butt"/>
<path d="M1657.5 819.2V789H1673.3V819.2" fill="none" stroke="#4f4ff2" stroke-width="3"/>
<line x1="1693.2" y1="790.8" x2="1693.2" y2="786.8" stroke="#eaa0a2" stroke-width="1.4" stroke-linecap="butt"/>
<line x1="1688.5" y1="786.8" x2="1697.9" y2="786.8" stroke="#eaa0a2" stroke-width="1.4" stroke-linecap="butt"/>
<path d="M1685.3 819.2V790.8H1701.1V819.2" fill="none" stroke="#eaa0a2" stroke-width="3"/>
<line x1="1721.3" y1="792.6" x2="1721.3" y2="790.5" stroke="#e08084" stroke-width="1.4" stroke-linecap="butt"/>
<line x1="1716.6" y1="790.5" x2="1726" y2="790.5" stroke="#e08084" stroke-width="1.4" stroke-linecap="butt"/>
<path d="M1713.4 819.2V792.6H1729.2V819.2" fill="none" stroke="#e08084" stroke-width="3"/>
<line x1="1749.1" y1="792.6" x2="1749.1" y2="788.8" stroke="#d83438" stroke-width="1.4" stroke-linecap="butt"/>
<line x1="1744.4" y1="788.8" x2="1753.8" y2="788.8" stroke="#d83438" stroke-width="1.4" stroke-linecap="butt"/>
<path d="M1741.2 819.2V792.6H1757V819.2" fill="none" stroke="#d83438" stroke-width="3"/>
<path d="M1591.3 554.8V532.45H1749.7V554.8" stroke="#000" stroke-width="2.9" fill="none" stroke-linejoin="miter" stroke-linecap="butt"/>
<text x="1661.61" y="518.37" font-size="18.5" font-family="'Liberation Sans', Arial, Helvetica, sans-serif" font-weight="bold" letter-spacing="2.5">**</text>
<path d="M1561.7 576.9V567.15H1721.4V576.9" stroke="#000" stroke-width="2.9" fill="none" stroke-linejoin="miter" stroke-linecap="butt"/>
<text x="1632.91" y="552.56" font-size="18.5" font-family="'Liberation Sans', Arial, Helvetica, sans-serif" font-weight="bold" letter-spacing="2.5">**</text>
<path d="M1534.8 609.1V598.85H1693.5V609.1" stroke="#000" stroke-width="2.9" fill="none" stroke-linejoin="miter" stroke-linecap="butt"/>
<text x="1605.11" y="584.76" font-size="18.5" font-family="'Liberation Sans', Arial, Helvetica, sans-serif" font-weight="bold" letter-spacing="2.5">**</text>
<path d="M1507.1 641.4V629.85H1666.6V640.8" stroke="#000" stroke-width="2.9" fill="none" stroke-linejoin="miter" stroke-linecap="butt"/>
<text x="1578.21" y="615.16" font-size="18.5" font-family="'Liberation Sans', Arial, Helvetica, sans-serif" font-weight="bold" letter-spacing="2.5">**</text>
<path d="M1479.4 621.2V608.85H1508.4V621.2" stroke="#000" stroke-width="2.9" fill="none" stroke-linejoin="miter" stroke-linecap="butt"/>
<text x="1485.51" y="595.06" font-size="18.5" font-family="'Liberation Sans', Arial, Helvetica, sans-serif" font-weight="bold" letter-spacing="2.5">**</text>
<path d="M1635.4 677.8V667.35H1667.6V677.8" stroke="#000" stroke-width="2.9" fill="none" stroke-linejoin="miter" stroke-linecap="butt"/>
<text x="1643.61" y="652.76" font-size="18.5" font-family="'Liberation Sans', Arial, Helvetica, sans-serif" font-weight="bold" letter-spacing="2.5">**</text>
<path d="M1506 705.8V694.25H1592.8V705.8" stroke="#000" stroke-width="2.9" fill="none" stroke-linejoin="miter" stroke-linecap="butt"/>
<text x="1541.21" y="680.26" font-size="18.5" font-family="'Liberation Sans', Arial, Helvetica, sans-serif" font-weight="bold" letter-spacing="2.5">**</text>
<line x1="692.8" y1="121.05" x2="692.8" y2="369.55" stroke="#000" stroke-width="2.3" stroke-linecap="butt"/>
<line x1="691.65" y1="368.4" x2="1064.9" y2="368.4" stroke="#000" stroke-width="2.3" stroke-linecap="butt"/>
<line x1="683" y1="122.2" x2="692.8" y2="122.2" stroke="#000" stroke-width="2.3" stroke-linecap="butt"/>
<line x1="683" y1="204.3" x2="692.8" y2="204.3" stroke="#000" stroke-width="2.3" stroke-linecap="butt"/>
<line x1="683" y1="286.4" x2="692.8" y2="286.4" stroke="#000" stroke-width="2.3" stroke-linecap="butt"/>
<line x1="683" y1="368.4" x2="692.8" y2="368.4" stroke="#000" stroke-width="2.3" stroke-linecap="butt"/>
<line x1="781.2" y1="368.4" x2="781.2" y2="378.7" stroke="#000" stroke-width="2.3" stroke-linecap="butt"/>
<line x1="975.3" y1="368.4" x2="975.3" y2="378.7" stroke="#000" stroke-width="2.3" stroke-linecap="butt"/>
<line x1="1184.8" y1="139.15" x2="1184.8" y2="368.35" stroke="#000" stroke-width="2.3" stroke-linecap="butt"/>
<line x1="1183.65" y1="367.2" x2="1524.7" y2="367.2" stroke="#000" stroke-width="2.3" stroke-linecap="butt"/>
<line x1="1175.3" y1="140.3" x2="1184.8" y2="140.3" stroke="#000" stroke-width="2.3" stroke-linecap="butt"/>
<line x1="1175.3" y1="215.9" x2="1184.8" y2="215.9" stroke="#000" stroke-width="2.3" stroke-linecap="butt"/>
<line x1="1175.3" y1="291.5" x2="1184.8" y2="291.5" stroke="#000" stroke-width="2.3" stroke-linecap="butt"/>
<line x1="1175.3" y1="367.2" x2="1184.8" y2="367.2" stroke="#000" stroke-width="2.3" stroke-linecap="butt"/>
<line x1="1265" y1="367.2" x2="1265" y2="376.4" stroke="#000" stroke-width="2.2" stroke-linecap="butt"/>
<line x1="1442.3" y1="367.2" x2="1442.3" y2="376.4" stroke="#000" stroke-width="2.2" stroke-linecap="butt"/>
<line x1="75.1" y1="615.85" x2="75.1" y2="825.25" stroke="#000" stroke-width="2.1" stroke-linecap="butt"/>
<line x1="74.05" y1="824.2" x2="388.7" y2="824.2" stroke="#000" stroke-width="2.1" stroke-linecap="butt"/>
<line x1="66.7" y1="616.9" x2="75.1" y2="616.9" stroke="#000" stroke-width="2.1" stroke-linecap="butt"/>
<line x1="66.7" y1="686" x2="75.1" y2="686" stroke="#000" stroke-width="2.1" stroke-linecap="butt"/>
<line x1="66.7" y1="755.1" x2="75.1" y2="755.1" stroke="#000" stroke-width="2.1" stroke-linecap="butt"/>
<line x1="66.7" y1="824.2" x2="75.1" y2="824.2" stroke="#000" stroke-width="2.1" stroke-linecap="butt"/>
<line x1="513.9" y1="598.6" x2="513.9" y2="822.6" stroke="#000" stroke-width="2.2" stroke-linecap="butt"/>
<line x1="512.8" y1="821.5" x2="847.9" y2="821.5" stroke="#000" stroke-width="2.2" stroke-linecap="butt"/>
<line x1="504.5" y1="599.7" x2="513.9" y2="599.7" stroke="#000" stroke-width="2.2" stroke-linecap="butt"/>
<line x1="504.5" y1="644" x2="513.9" y2="644" stroke="#000" stroke-width="2.2" stroke-linecap="butt"/>
<line x1="504.5" y1="688.4" x2="513.9" y2="688.4" stroke="#000" stroke-width="2.2" stroke-linecap="butt"/>
<line x1="504.5" y1="732.8" x2="513.9" y2="732.8" stroke="#000" stroke-width="2.2" stroke-linecap="butt"/>
<line x1="504.5" y1="777.1" x2="513.9" y2="777.1" stroke="#000" stroke-width="2.2" stroke-linecap="butt"/>
<line x1="504.5" y1="821.5" x2="513.9" y2="821.5" stroke="#000" stroke-width="2.2" stroke-linecap="butt"/>
<line x1="1011.4" y1="589.65" x2="1011.4" y2="821.65" stroke="#000" stroke-width="2.1" stroke-linecap="butt"/>
<line x1="1010.35" y1="820.6" x2="1358.1" y2="820.6" stroke="#000" stroke-width="2.1" stroke-linecap="butt"/>
<line x1="1001.3" y1="590.7" x2="1011.4" y2="590.7" stroke="#000" stroke-width="2.1" stroke-linecap="butt"/>
<line x1="1001.3" y1="667.3" x2="1011.4" y2="667.3" stroke="#000" stroke-width="2.1" stroke-linecap="butt"/>
<line x1="1001.3" y1="744" x2="1011.4" y2="744" stroke="#000" stroke-width="2.1" stroke-linecap="butt"/>
<line x1="1001.3" y1="820.6" x2="1011.4" y2="820.6" stroke="#000" stroke-width="2.1" stroke-linecap="butt"/>
<line x1="1460.5" y1="613.25" x2="1460.5" y2="820.25" stroke="#000" stroke-width="2.1" stroke-linecap="butt"/>
<line x1="1459.45" y1="819.2" x2="1769.3" y2="819.2" stroke="#000" stroke-width="2.1" stroke-linecap="butt"/>
<line x1="1452" y1="614.3" x2="1460.5" y2="614.3" stroke="#000" stroke-width="2.1" stroke-linecap="butt"/>
<line x1="1452" y1="682.6" x2="1460.5" y2="682.6" stroke="#000" stroke-width="2.1" stroke-linecap="butt"/>
<line x1="1452" y1="750.9" x2="1460.5" y2="750.9" stroke="#000" stroke-width="2.1" stroke-linecap="butt"/>
<line x1="1452" y1="819.2" x2="1460.5" y2="819.2" stroke="#000" stroke-width="2.1" stroke-linecap="butt"/>
</svg>
</body></html>
